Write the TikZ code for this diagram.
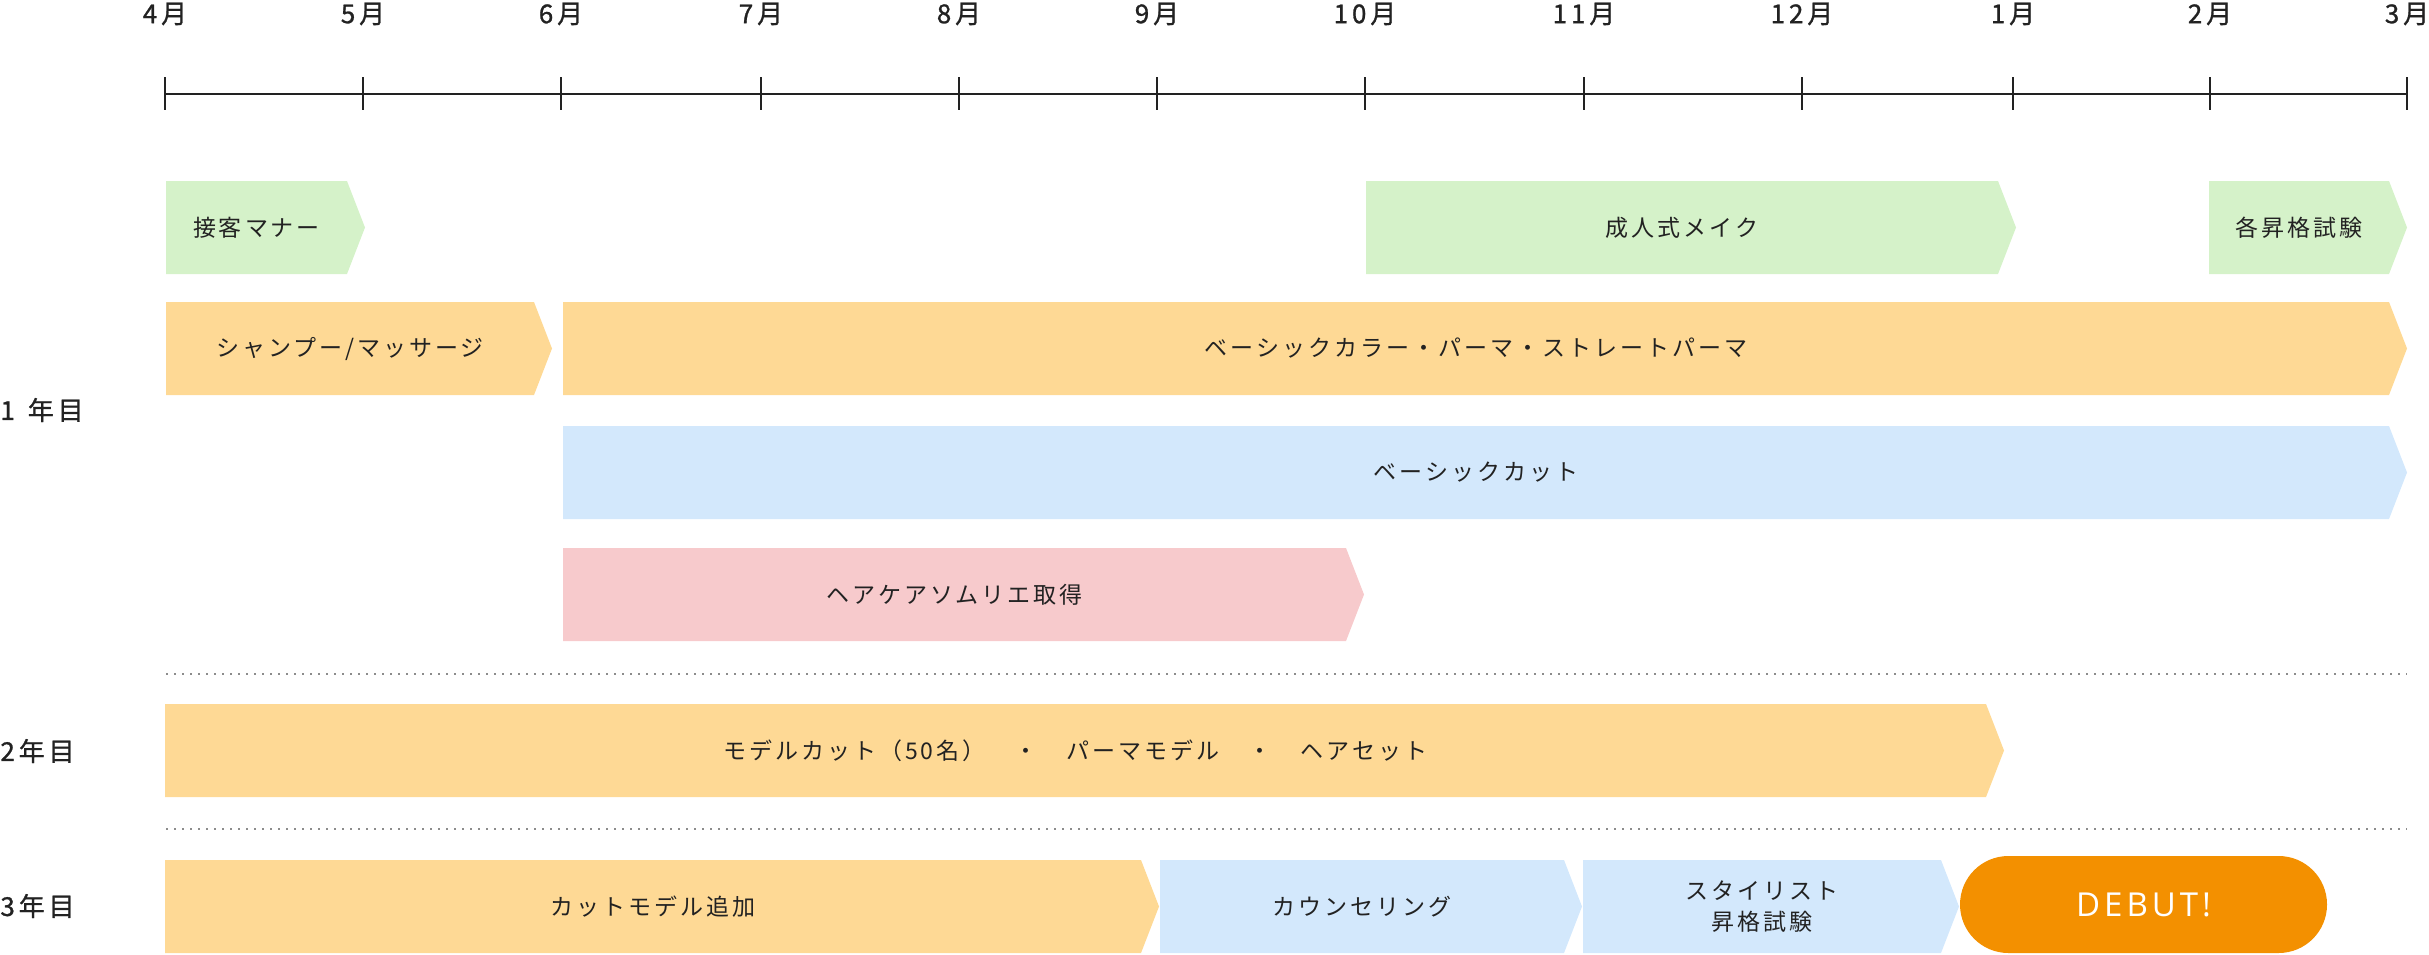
\documentclass[tikz,border=0pt]{standalone}
\usepackage{fontspec}
\setmainfont{Noto Sans CJK JP}
\newfontfamily\boxfont{Noto Sans CJK JP}[LetterSpace=13]
\newfontfamily\labelfont{Noto Sans CJK JP}[LetterSpace=15, FakeBold=1]
\newfontfamily\debutfont{Open Sans}[LetterSpace=12]

\definecolor{bargreen}{HTML}{D5F2C9}
\definecolor{barorange}{HTML}{FED995}
\definecolor{barblue}{HTML}{D3E8FC}
\definecolor{barpink}{HTML}{F7CACC}
\definecolor{debutorange}{HTML}{F39000}
\definecolor{textgray}{HTML}{222222}
\definecolor{dotgray}{HTML}{8C8C8C}

\tikzset{
  axisline/.style={line width=1.15pt, textgray},
  tickline/.style={line width=0.7pt, textgray},
  monthlabel/.style={font={\labelfont\fontsize{13}{15}\selectfont}, text=textgray, inner sep=0pt},
  yearlabel/.style={font={\labelfont\fontsize{13}{15}\selectfont}, text=textgray, inner sep=0pt, anchor=west},
  bartext/.style={font={\boxfont\fontsize{11.5}{15.5}\selectfont}, text=textgray, inner sep=0pt, align=center},
  rowsep/.style={dotgray, line width=1pt, dash pattern=on 1pt off 3pt},
  debutpill/.style={fill=debutorange, text=white, rounded corners=24.2pt,
    minimum width=183.5pt, minimum height=48.5pt, inner sep=0pt,
    font={\debutfont\fontsize{16.5}{20}\selectfont}},
}

% bar with a pointed right end: name, colour, x left, x right, y top, text
\newcommand{\phasebar}[6]{%
  \fill[#2] (#3,#5) -- (#4,#5) -- (#4+18,#5+46.5) -- (#4,#5+93) -- (#3,#5+93) -- cycle;
  \node[bartext] (#1) at ({(#3+#4)/2},#5+46.5) {#6};
}

\begin{document}
\begin{tikzpicture}[x=0.5pt, y=-0.5pt]
  \useasboundingbox (0,0) rectangle (2429,954);
      % time axis
  \draw[axisline] (165,94) -- (2407,94);
  \foreach \x/\m in {165/4, 363/5, 561/6, 761/7, 959/8, 1157/9, 1365/10, 1584/11, 1802/12, 2013/1, 2210/2, 2407/3}{
    \draw[tickline] (\x,77) -- (\x,110);
    \node[monthlabel] (m\m) at (\x,14) {\m 月};
  }
      % years
  \node[yearlabel] (year1) at (0,410) {1\enspace 年目};
  \node[yearlabel] (year2) at (0,751) {2年目};
  \node[yearlabel] (year3) at (0,906) {3年目};
      % 1st year
  \phasebar{manner}{bargreen}{166}{347}{181}{接客マナー}
  \phasebar{makeup}{bargreen}{1366}{1998}{181}{成人式メイク}
  \phasebar{exams}{bargreen}{2209}{2389}{181}{各昇格試験}
  \phasebar{shampoo}{barorange}{166}{534}{302}{シャンプー/マッサージ}
  \phasebar{color}{barorange}{563}{2389}{302}{ベーシックカラー・パーマ・ストレートパーマ}
  \phasebar{basiccut}{barblue}{563}{2389}{426}{ベーシックカット}
  \phasebar{sommelier}{barpink}{563}{1346}{548}{ヘアケアソムリエ取得}
  \draw[rowsep] (166,674) -- (2407,674);
      % 2nd year
  \phasebar{model}{barorange}{165}{1986}{704}{モデルカット（50名）　・　パーマモデル　・　ヘアセット}
  \draw[rowsep] (166,829) -- (2407,829);
      % 3rd year
  \phasebar{cutmodel}{barorange}{165}{1141}{860}{カットモデル追加}
  \phasebar{counsel}{barblue}{1160}{1564}{860}{カウンセリング}
  \phasebar{stylist}{barblue}{1583}{1941}{860}{スタイリスト\\昇格試験}
  \node[debutpill] (debut) at (2143.5,904.5) {DEBUT!};
\end{tikzpicture}
\end{document}
